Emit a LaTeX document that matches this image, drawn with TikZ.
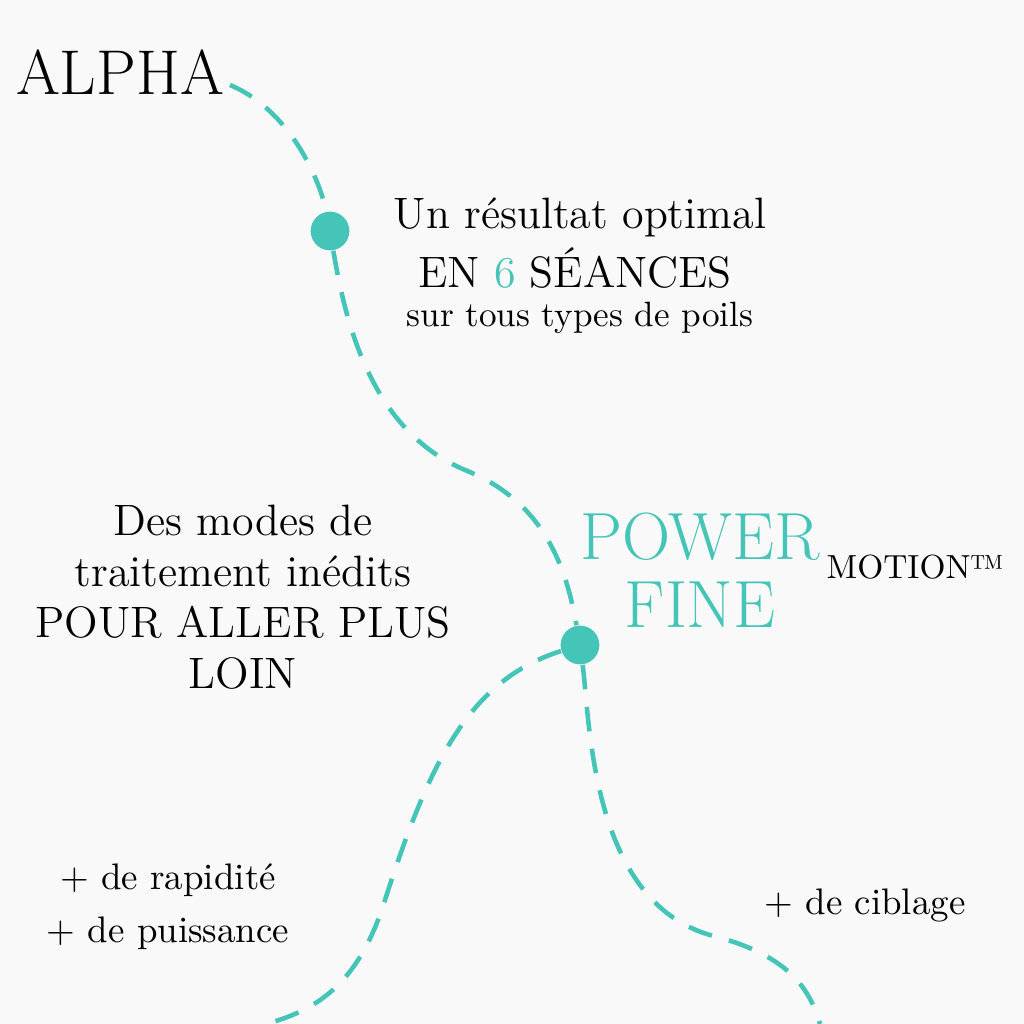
\documentclass[tikz,border=0pt]{standalone}
\usetikzlibrary{positioning}
\definecolor{teal}{HTML}{45C4B8}
\definecolor{bg}{HTML}{F9F9F9}
\tikzset{
  trail/.style={teal, line width=1.3pt, dash pattern=on 7pt off 5pt},
  stop/.style={circle, fill=teal, inner sep=0pt, minimum size=11pt},
  txt/.style={align=center, inner sep=0pt, font=\fontsize{12.5}{16}\selectfont}
}
\begin{document}
\begin{tikzpicture}[x=0.01cm,y=-0.01cm]
\fill[bg] (0,0) rectangle (1024,1024);
\useasboundingbox (0,0) rectangle (1024,1024);
% text
\node[txt, font=\fontsize{18}{22}\selectfont] (alpha) at (120,72) {ALPHA};
\node[txt] (res1) at (580,217) {Un résultat optimal};
\node[txt] (res2) at (575,268) {EN \textcolor{teal}{6} SÉANCES};
\node[txt, font=\fontsize{10}{12}\selectfont] (res3) at (580,318) {sur tous types de poils};
\node[txt, font=\fontsize{12.5}{14.5}\selectfont] (modes) at (243,597) {Des modes de\\traitement inédits\\POUR ALLER PLUS\\LOIN};
\node[txt, font=\fontsize{19}{19.5}\selectfont, text=teal] (power) at (700,570) {POWER\\FINE};
\node[txt, font=\fontsize{9.5}{12}\selectfont, anchor=west] (motion) at (826,567) {MOTION™};
\node[txt, font=\fontsize{10.5}{15}\selectfont] (rapid) at (168,907) {+ de rapidité\\+ de puissance};
\node[txt, font=\fontsize{10.5}{13}\selectfont] (cible) at (865,905) {+ de ciblage};
% trails
\coordinate (start) at (230,85);
\node[stop] (d1) at (330,231) {};
\node[stop] (d2) at (580,645) {};
\coordinate (endR) at (820,1024);
\coordinate (endL) at (265,1024);
\draw[trail] (start) .. controls (290,110) and (320,180) .. (d1);
\draw[trail] (d1) .. controls (345,320) and (370,430) .. (465,470)
  .. controls (540,500) and (565,560) .. (d2);
\draw[trail] (d2) .. controls (590,720) and (590,900) .. (710,935)
  .. controls (790,955) and (810,990) .. (endR);
\draw[trail] (d2) .. controls (470,680) and (430,760) .. (385,900)
  .. controls (360,980) and (320,1010) .. (endL);
\end{tikzpicture}
\end{document}
